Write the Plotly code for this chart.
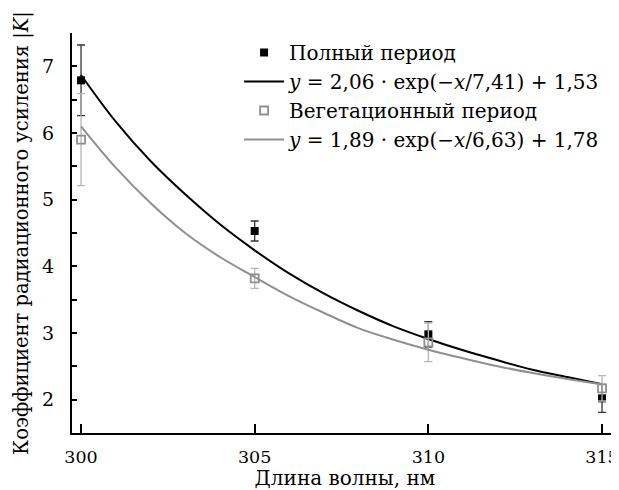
import plotly.graph_objects as go

# Measured points
wl_points = [300, 305, 310, 315]
full_vals = [6.79, 4.53, 2.98, 2.02]
full_err = [0.53, 0.15, 0.19, 0.21]
veg_vals = [5.90, 3.82, 2.86, 2.17]
veg_err = [0.69, 0.15, 0.29, 0.19]

# Fit curves (1 nm steps)
wl_curve = [300, 301, 302, 303, 304, 305, 306, 307, 308, 309, 310, 311, 312, 313, 314, 315]
full_fit = [6.87, 6.17, 5.58, 5.08, 4.63, 4.24, 3.89, 3.59, 3.33, 3.10, 2.91, 2.74, 2.59, 2.45, 2.34, 2.23]
veg_fit = [6.10, 5.48, 4.95, 4.50, 4.14, 3.84, 3.55, 3.30, 3.07, 2.90, 2.75, 2.62, 2.50, 2.40, 2.31, 2.23]

x_ticks = [300, 305, 310, 315]
y_ticks = [2, 3, 4, 5, 6, 7]

names = [
    "Полный период",
    "<i>y</i> = 2,06 · exp(−<i>x</i>/7,41) + 1,53",
    "Вегетационный период",
    "<i>y</i> = 1,89 · exp(−<i>x</i>/6,63) + 1,78",
]

FONT = "DejaVu Serif"
GREY = "#8f8f8f"

fig = go.Figure()
fig.add_trace(go.Scatter(
    x=wl_points, y=full_vals, mode="markers", name=names[0], legendgroup="a",
    marker=dict(symbol="square", size=8, color="black"),
    error_y=dict(type="data", array=full_err, color="#333333", thickness=1.3, width=4),
))
fig.add_trace(go.Scatter(
    x=wl_curve, y=full_fit, mode="lines", name=names[1], legendgroup="b",
    line=dict(color="black", width=2, shape="spline"),
))
fig.add_trace(go.Scatter(
    x=wl_points, y=veg_vals, mode="markers", name=names[2], legendgroup="c",
    marker=dict(symbol="square-open", size=8, color=GREY, line=dict(width=1.8, color=GREY)),
    error_y=dict(type="data", array=veg_err, color="#b5b5b5", thickness=1.3, width=4),
))
fig.add_trace(go.Scatter(
    x=wl_curve, y=veg_fit, mode="lines", name=names[3], legendgroup="d",
    line=dict(color=GREY, width=2, shape="spline"),
))

# The page has an 8px body margin, so the figure is sized/offset to compensate.
fig.update_layout(
    width=611, height=482,
    margin=dict(l=64, r=1, t=25, b=57, autoexpand=False),
    paper_bgcolor="white", plot_bgcolor="white",
    font=dict(family=FONT, size=19, color="black"),
    showlegend=True,
    legend=dict(
        x=0.306, y=1.0, xanchor="left", yanchor="top",
        bgcolor="rgba(0,0,0,0)", font=dict(family=FONT, size=20),
        tracegroupgap=2, traceorder="normal", itemwidth=40,
    ),
    xaxis=dict(
        range=[299.74, 315.46], tickvals=x_ticks, ticktext=[str(v) for v in x_ticks],
        ticks="inside", ticklen=9, tickwidth=1.5, tickcolor="black",
        showline=True, linecolor="black", linewidth=2, showgrid=False, zeroline=False,
        ticklabelstandoff=7, ticklabeloverflow="allow", tickfont=dict(family=FONT, size=17.5),
        title=dict(text="Длина волны, нм", font=dict(family=FONT, size=20), standoff=0),
        automargin=False,
    ),
    yaxis=dict(
        range=[1.5, 7.5], tickvals=y_ticks, ticktext=[str(v) for v in y_ticks],
        ticks="inside", ticklen=5, tickwidth=1.5, tickcolor="black",
        minor=dict(ticks="inside", ticklen=5, dtick=0.5, tick0=1.5, tickcolor="black", tickwidth=1.5),
        showline=True, linecolor="black", linewidth=2, showgrid=False, zeroline=False,
        ticklabelstandoff=12, tickfont=dict(family=FONT, size=19),
        title=dict(text="Коэффициент радиационного усиления |<i>K</i>|", font=dict(family=FONT, size=19.5), standoff=8),
        automargin=False,
    ),
)

fig.write_html("out.html")
